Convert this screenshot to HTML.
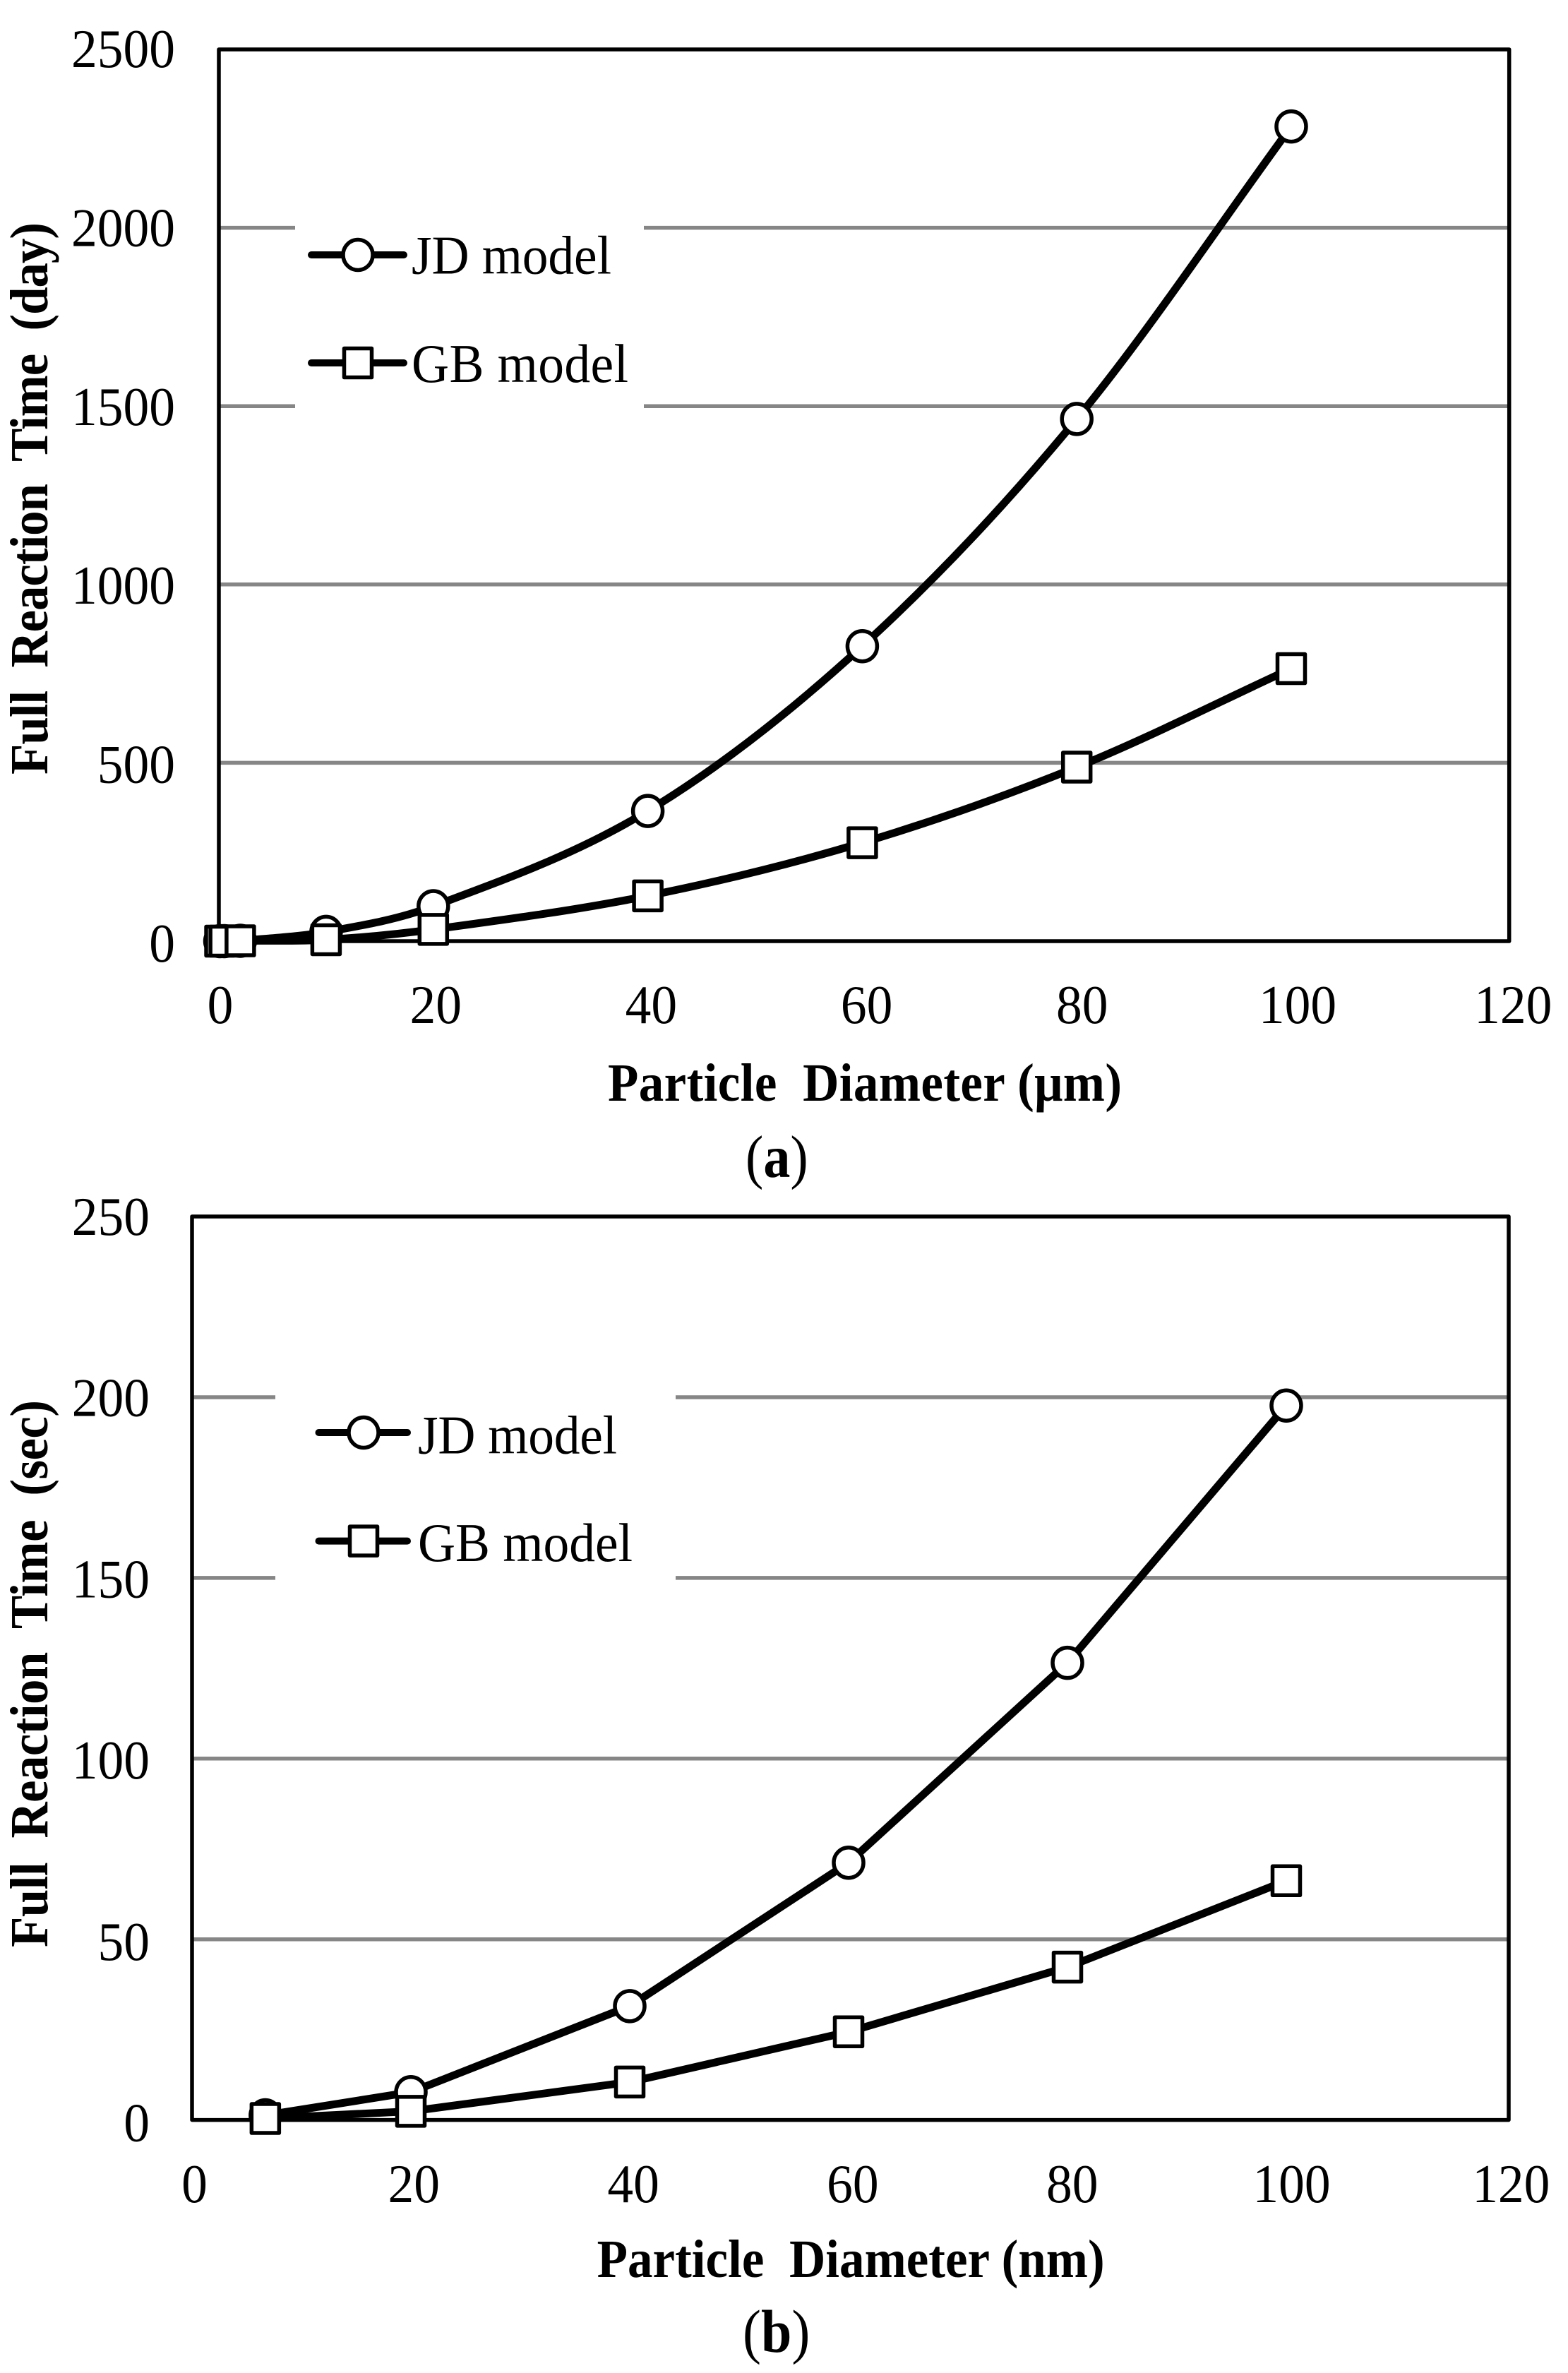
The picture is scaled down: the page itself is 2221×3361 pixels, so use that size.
<!DOCTYPE html>
<html lang="en">
<head>
<meta charset="utf-8">
<title>Full reaction time versus particle diameter</title>
<style>
html,body{margin:0;padding:0;background:#fff;width:2221px;height:3361px;overflow:hidden}
svg{display:block}
text{font-family:"Liberation Serif",serif;fill:#000;font-size:73.5px}
.bold{font-weight:bold;font-size:71px}
</style>
</head>
<body>
<svg id="figure" xmlns="http://www.w3.org/2000/svg" width="2221" height="3361" viewBox="0 0 2221 3361">
  <rect x="0" y="0" width="2221" height="3361" fill="#fff"/>
  <g id="panelA"></g>
  <g id="panelB"></g>

  <text class="bold" transform="translate(861,1559) scale(1,1.07)" textLength="728" lengthAdjust="spacing" xml:space="preserve">Particle  Diameter (μm)</text>
  <text class="bold" transform="translate(67,1097) rotate(-90) scale(1,1.07)" textLength="782" lengthAdjust="spacing" xml:space="preserve">Full  Reaction  Time  (day)</text>
  <text style="font-size:76px" transform="translate(1056,1667) scale(1,1.12)">(<tspan class="bold" style="font-size:76px">a</tspan>)</text>

  <text class="bold" transform="translate(845.6,3225) scale(1,1.07)" textLength="719" lengthAdjust="spacing" xml:space="preserve">Particle  Diameter (nm)</text>
  <text class="bold" transform="translate(67,2758) rotate(-90) scale(1,1.07)" textLength="775" lengthAdjust="spacing" xml:space="preserve">Full  Reaction  Time  (sec)</text>
  <text style="font-size:78px" transform="translate(1052,3331) scale(1,1.1)">(<tspan class="bold" style="font-size:78px">b</tspan>)</text>
</svg>
<script>
const xValuesA = [0.1, 0.5, 2, 10, 20, 40, 60, 80, 100];
const jdValuesA = [0, 0, 1, 26, 98, 365, 827, 1464, 2284];
const gbValuesA = [0, 0, 1, 4, 33, 127, 276, 488, 764];
const xTicksA = [0, 20, 40, 60, 80, 100, 120];
const yTicksA = [0, 500, 1000, 1500, 2000, 2500];

const xValuesB = [6.7, 20, 40, 60, 80, 100];
const jdValuesB = [1.3, 7.7, 31.5, 71.2, 126.5, 197.7];
const gbValuesB = [0.4, 2.4, 10.5, 24.4, 42.3, 66.2];
const xTicksB = [0, 20, 40, 60, 80, 100, 120];
const yTicksB = [0, 50, 100, 150, 200, 250];

const legendLabels = ['JD model', 'GB model'];

const NS = 'http://www.w3.org/2000/svg';

const panelAConfig = {
  root: document.getElementById('panelA'),
  left: 310, right: 2137.7, top: 70, bottom: 1333,
  x: v => 310 + 15.19 * v,
  y: v => 1333 - 0.5052 * v,
  xLabel: v => 312 + 15.26 * v,
  yLabel: v => 1362 - 0.5068 * v,
  yLabelRight: 248, xLabelBaseline: 1449,
  xTicks: xTicksA, yTicks: yTicksA,
  xs: xValuesA, jd: jdValuesA, gb: gbValuesA, smooth: true,
  legend: { left: 418, right: 912, top: 305, bottom: 590,
            lineL: 441, lineR: 572, mark: 507, textX: 583,
            y1: 361, y2: 514, base1: 387.5, base2: 541, w1: 283, w2: 307 }
};

const panelBConfig = {
  root: document.getElementById('panelB'),
  left: 272, right: 2137, top: 1723, bottom: 3002.6,
  x: v => 272 + 15.5 * v,
  y: v => 3002.6 - 5.118 * v,
  xLabel: v => 275.5 + 15.54 * v,
  yLabel: v => 3032.5 - 5.134 * v,
  yLabelRight: 212, xLabelBaseline: 3119,
  xTicks: xTicksB, yTicks: yTicksB,
  xs: xValuesB, jd: jdValuesB, gb: gbValuesB, smooth: false,
  legend: { left: 390, right: 957, top: 1965, bottom: 2250,
            lineL: 451.5, lineR: 577, mark: 515, textX: 592,
            y1: 2029, y2: 2182.6, base1: 2058.5, base2: 2211, w1: 282, w2: 304 }
};

function make(tag, attrs) {
  const node = document.createElementNS(NS, tag);
  for (const k in attrs) node.setAttribute(k, attrs[k]);
  return node;
}

function pathFor(points, smooth) {
  let d = 'M' + points[0][0] + ' ' + points[0][1];
  for (let i = 1; i < points.length; i++) {
    const p1 = points[i - 1], p2 = points[i];
    if (!smooth) { d += 'L' + p2[0] + ' ' + p2[1]; continue; }
    const p0 = points[i - 2] || p1, p3 = points[i + 1] || p2;
    const dx = (p2[0] - p1[0]) / 3;
    const s1 = (p2[1] - p0[1]) / ((p2[0] - p0[0]) || 1);
    const s2 = (p3[1] - p1[1]) / ((p3[0] - p1[0]) || 1);
    d += 'C' + (p1[0] + dx) + ' ' + (p1[1] + s1 * dx) + ' ' + (p2[0] - dx) + ' ' + (p2[1] - s2 * dx) + ' ' + p2[0] + ' ' + p2[1];
  }
  return d;
}

function addCircle(parent, cx, cy) {
  const el = make('ellipse', { cx: cx, cy: cy, rx: 21, ry: 21.5, fill: '#fff', stroke: '#000', 'stroke-width': 5.5 });
  
  
  parent.appendChild(el);
}

function addSquare(parent, cx, cy) {
  const el = make('rect', { x: cx - 19.5, y: cy - 20.5, width: 39, height: 41, fill: '#fff', stroke: '#000', 'stroke-width': 5.5, 'stroke-linejoin': 'round' });
  
  
  parent.appendChild(el);
}

function addSeriesLine(parent, points, smooth, isJd) {
  const el = make('path', { d: pathFor(points, smooth), fill: 'none', stroke: '#000', 'stroke-width': 11, 'stroke-linejoin': 'round', 'stroke-linecap': 'round' });
  if (isJd) {
    
  } else {
    
  }
  
  parent.appendChild(el);
}

function drawPanel(c) {
  const root = c.root;

  c.yTicks.forEach(t => {
    if (t === c.yTicks[0] || t === c.yTicks[c.yTicks.length - 1]) return;
    const grid = make('line', { x1: c.left, x2: c.right, y1: c.y(t), y2: c.y(t), stroke: '#868686', 'stroke-width': 5.5 });
    
    
    root.appendChild(grid);
  });

  const lg = c.legend;
  const legendBox = make('rect', { x: lg.left, y: lg.top, width: lg.right - lg.left, height: lg.bottom - lg.top, fill: '#fff' });
  
  
  root.appendChild(legendBox);

  const frame = make('rect', { x: c.left, y: c.top, width: c.right - c.left, height: c.bottom - c.top, fill: 'none', stroke: '#000', 'stroke-width': 5.5, 'stroke-linejoin': 'round' });
  
  
  root.appendChild(frame);

  c.yTicks.forEach(t => {
    const label = make('text', { transform: 'translate(' + c.yLabelRight + ',' + c.yLabel(t) + ') scale(1,1.05)', 'text-anchor': 'end' });
    label.textContent = String(t);
    
    
    root.appendChild(label);
  });

  c.xTicks.forEach(t => {
    const label = make('text', { transform: 'translate(' + c.xLabel(t) + ',' + c.xLabelBaseline + ') scale(1,1.05)', 'text-anchor': 'middle' });
    label.textContent = String(t);
    
    
    root.appendChild(label);
  });

  const jdPts = c.xs.map((v, i) => [c.x(v), c.y(c.jd[i])]);
  const gbPts = c.xs.map((v, i) => [c.x(v), c.y(c.gb[i])]);

  addSeriesLine(root, jdPts, c.smooth, true);
  jdPts.forEach(p => addCircle(root, p[0], p[1]));
  addSeriesLine(root, gbPts, c.smooth, false);
  gbPts.forEach(p => addSquare(root, p[0], p[1]));

  const legend = make('g', {});
  
  
  root.appendChild(legend);

  const jdKey = make('line', { x1: lg.lineL, x2: lg.lineR, y1: lg.y1, y2: lg.y1, stroke: '#000', 'stroke-width': 10, 'stroke-linecap': 'round' });
  
  
  legend.appendChild(jdKey);
  addCircle(legend, lg.mark, lg.y1);

  const jdText = make('text', { transform: 'translate(' + lg.textX + ',' + lg.base1 + ') scale(1,1.05)', textLength: lg.w1, lengthAdjust: 'spacing' });
  jdText.textContent = legendLabels[0];
  
  
  legend.appendChild(jdText);

  const gbKey = make('line', { x1: lg.lineL, x2: lg.lineR, y1: lg.y2, y2: lg.y2, stroke: '#000', 'stroke-width': 10, 'stroke-linecap': 'round' });
  
  
  legend.appendChild(gbKey);
  addSquare(legend, lg.mark, lg.y2);

  const gbText = make('text', { transform: 'translate(' + lg.textX + ',' + lg.base2 + ') scale(1,1.05)', textLength: lg.w2, lengthAdjust: 'spacing' });
  gbText.textContent = legendLabels[1];
  
  
  legend.appendChild(gbText);
}

drawPanel(panelAConfig);
drawPanel(panelBConfig);
</script>
</body>
</html>
